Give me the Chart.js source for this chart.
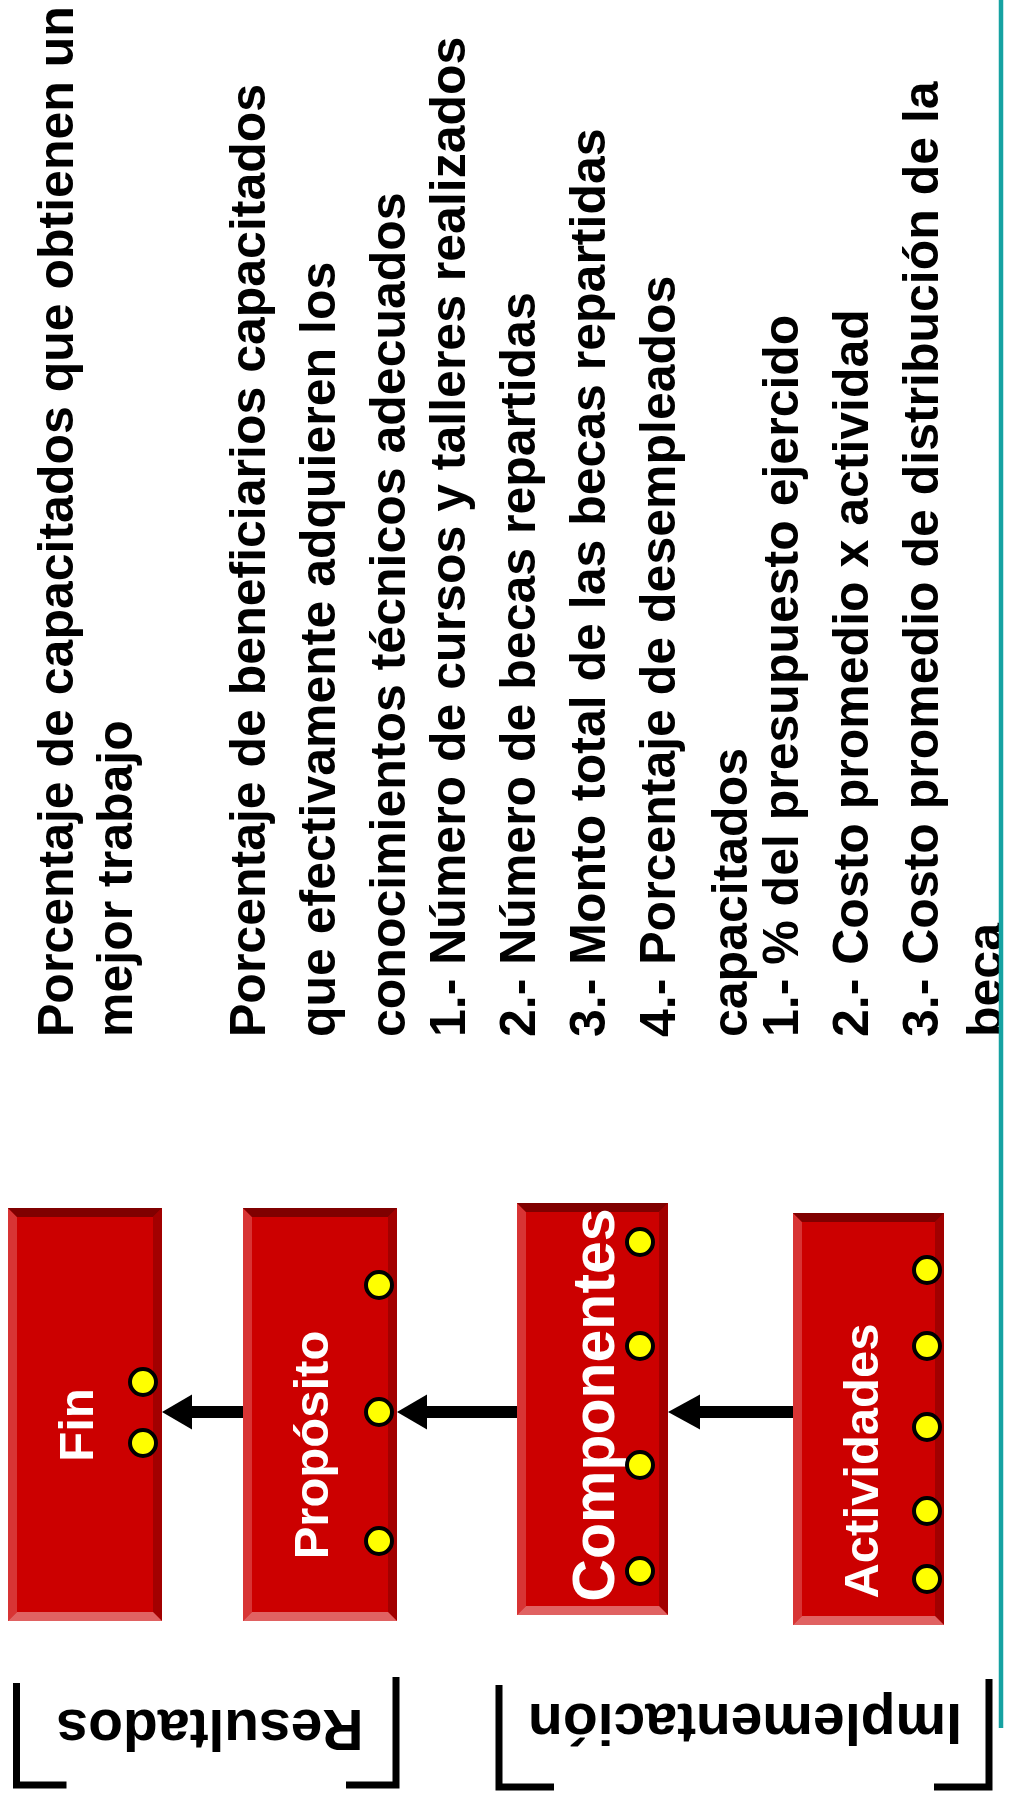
<!DOCTYPE html>
<html><head><meta charset="utf-8">
<script src="https://cdn.jsdelivr.net/npm/chart.js@4/dist/chart.umd.min.js"></script>
<style>html,body{margin:0;padding:0;background:#fff;overflow:hidden;}#wrap{width:1010px;height:1802px;position:relative;}</style>
</head><body><div id="wrap"><canvas id="c"></canvas></div>
<script>
// ---- data ----
const levels = ['Fin', 'Propósito', 'Componentes', 'Actividades'];
const groups = ['Resultados', 'Implementación'];
const finIndicators = [1382, 1443];
const propositoIndicators = [1285, 1412, 1541];
const componentesIndicators = [1242, 1346, 1465, 1571];
const actividadesIndicators = [1270, 1346, 1427, 1511, 1579];
const indicatorLines = [
  'Porcentaje de capacitados que obtienen un',
  'mejor trabajo',
  'Porcentaje de beneficiarios capacitados',
  'que efectivamente adquieren los',
  'conocimientos técnicos adecuados',
  '1.- Número de cursos y talleres realizados',
  '2.- Número de becas repartidas',
  '3.- Monto total de las becas repartidas',
  '4.- Porcentaje de desempleados',
  'capacitados',
  '1.- % del presupuesto ejercido',
  '2.- Costo promedio x actividad',
  '3.- Costo promedio de distribución de la',
  'beca'
];

// ---- layout (image coordinates, drawn through the chart scales) ----
const FONT = '"Liberation Sans", Arial, Helvetica, sans-serif';
const boxes = [
  {x0: 8, x1: 162, y0: 1208, y1: 1621},
  {x0: 243, x1: 397, y0: 1208, y1: 1621},
  {x0: 517, x1: 668, y0: 1203, y1: 1615},
  {x0: 793, x1: 944, y0: 1213, y1: 1625}
];
const dotX = [143, 379, 640, 927];
const labelPos = [
  {bx: 93, cy: 1425, size: 49},
  {bx: 328, cy: 1445, size: 49},
  {bx: 614, cy: 1405, size: 59},
  {bx: 878, cy: 1461, size: 49}
];
const arrowY = 1412;
const arrows = [
  {tip: 162, base: 192, tail: 243},
  {tip: 397, base: 427, tail: 517},
  {tip: 668, base: 700, tail: 793}
];
const lineBaselines = [73, 132, 265, 335, 405, 465, 535, 605, 675, 747, 798, 868, 938, 1002];
const lineStartY = 1037;
const brackets = [
  {lx: 16.5, rx: 396, top: 1680, bottom: 1785, foot: 50, textX: 210, textY: 1710},
  {lx: 499, rx: 989, top: 1682, bottom: 1787, foot: 55, textX: 745, textY: 1704}
];

const diagramPlugin = {
  id: 'diagram',
  beforeDatasetsDraw(chart) {
    const ctx = chart.ctx;
    const xs = chart.scales.x, ys = chart.scales.y;
    const X = v => xs.getPixelForValue(v);
    const Y = v => ys.getPixelForValue(v);
    ctx.save();
    boxes.forEach((b, i) => {
      const x0 = X(b.x0), x1 = X(b.x1), y0 = Y(b.y0), y1 = Y(b.y1), e = 9;
      ctx.fillStyle = '#cc0000';
      ctx.fillRect(x0, y0, x1 - x0, y1 - y0);
      const poly = (pts, col) => {
        ctx.beginPath(); ctx.moveTo(pts[0][0], pts[0][1]);
        for (let k = 1; k < pts.length; k++) ctx.lineTo(pts[k][0], pts[k][1]);
        ctx.closePath(); ctx.fillStyle = col; ctx.fill();
      };
      poly([[x0, y0], [x0 + e, y0 + e], [x0 + e, y1 - e], [x0, y1]], '#d83434');
      poly([[x1, y0], [x1 - e, y0 + e], [x1 - e, y1 - e], [x1, y1]], '#a20000');
      poly([[x0, y0], [x1, y0], [x1 - e, y0 + e], [x0 + e, y0 + e]], '#800000');
      poly([[x0, y1], [x1, y1], [x1 - e, y1 - e], [x0 + e, y1 - e]], '#e06262');
      const lp = labelPos[i];
      ctx.save();
      ctx.translate(X(lp.bx), Y(lp.cy));
      ctx.rotate(-Math.PI / 2);
      ctx.font = 'bold ' + lp.size + 'px ' + FONT;
      ctx.fillStyle = '#ffffff';
      ctx.textAlign = 'center';
      ctx.textBaseline = 'alphabetic';
      ctx.fillText(levels[i], 0, 0);
      ctx.restore();
    });
    arrows.forEach(a => {
      ctx.fillStyle = '#000';
      ctx.fillRect(X(a.base) - 1, Y(arrowY) - 6, X(a.tail) - X(a.base) + 1, 12);
      ctx.beginPath();
      ctx.moveTo(X(a.tip), Y(arrowY));
      ctx.lineTo(X(a.base), Y(arrowY) - 17.5);
      ctx.lineTo(X(a.base), Y(arrowY) + 17.5);
      ctx.closePath();
      ctx.fill();
    });
    ctx.fillStyle = '#000';
    ctx.font = 'bold 50px ' + FONT;
    indicatorLines.forEach((t, i) => {
      ctx.save();
      ctx.translate(X(lineBaselines[i]), Y(lineStartY));
      ctx.rotate(-Math.PI / 2);
      ctx.textAlign = 'left';
      ctx.textBaseline = 'alphabetic';
      ctx.fillText(t, 0, 0);
      ctx.restore();
    });
    ctx.strokeStyle = '#000';
    ctx.lineWidth = 7;
    ctx.lineCap = 'butt';
    ctx.lineJoin = 'miter';
    brackets.forEach((b, i) => {
      ctx.beginPath();
      ctx.moveTo(X(b.lx), Y(b.top) + 3);
      ctx.lineTo(X(b.lx), Y(b.bottom));
      ctx.lineTo(X(b.lx + b.foot), Y(b.bottom));
      ctx.stroke();
      ctx.beginPath();
      ctx.moveTo(X(b.rx), Y(b.top) - 3);
      ctx.lineTo(X(b.rx), Y(b.bottom));
      ctx.lineTo(X(b.rx - b.foot), Y(b.bottom));
      ctx.stroke();
      ctx.save();
      ctx.translate(X(b.textX), Y(b.textY));
      ctx.rotate(Math.PI);
      ctx.font = 'bold 57px ' + FONT;
      ctx.fillStyle = '#000';
      ctx.textAlign = 'center';
      ctx.textBaseline = 'alphabetic';
      ctx.fillText(groups[i], 0, 0);
      ctx.restore();
    });
    ctx.strokeStyle = '#16a2a2';
    ctx.lineWidth = 4.5;
    ctx.beginPath();
    ctx.moveTo(X(1001), Y(0));
    ctx.lineTo(X(1001), Y(1728));
    ctx.stroke();
    ctx.restore();
  }
};

const indicatorSets = [finIndicators, propositoIndicators, componentesIndicators, actividadesIndicators];
const datasets = indicatorSets.map((arr, i) => ({
  label: levels[i],
  data: arr.map(v => ({x: dotX[i], y: v})),
  pointRadius: 13,
  pointHoverRadius: 13,
  pointBackgroundColor: '#ffff00',
  pointBorderColor: '#000000',
  pointBorderWidth: 4,
  showLine: false,
  clip: false
}));

new Chart(document.getElementById('c'), {
  type: 'scatter',
  data: {datasets},
  options: {
    responsive: true,
    maintainAspectRatio: false,
    animation: false,
    events: [],
    layout: {padding: 0, autoPadding: false},
    plugins: {legend: {display: false}, tooltip: {enabled: false}},
    scales: {
      x: {type: 'linear', min: 0, max: 1010, display: false},
      y: {type: 'linear', min: 0, max: 1802, reverse: true, display: false}
    }
  },
  plugins: [diagramPlugin]
});
</script></body></html>
